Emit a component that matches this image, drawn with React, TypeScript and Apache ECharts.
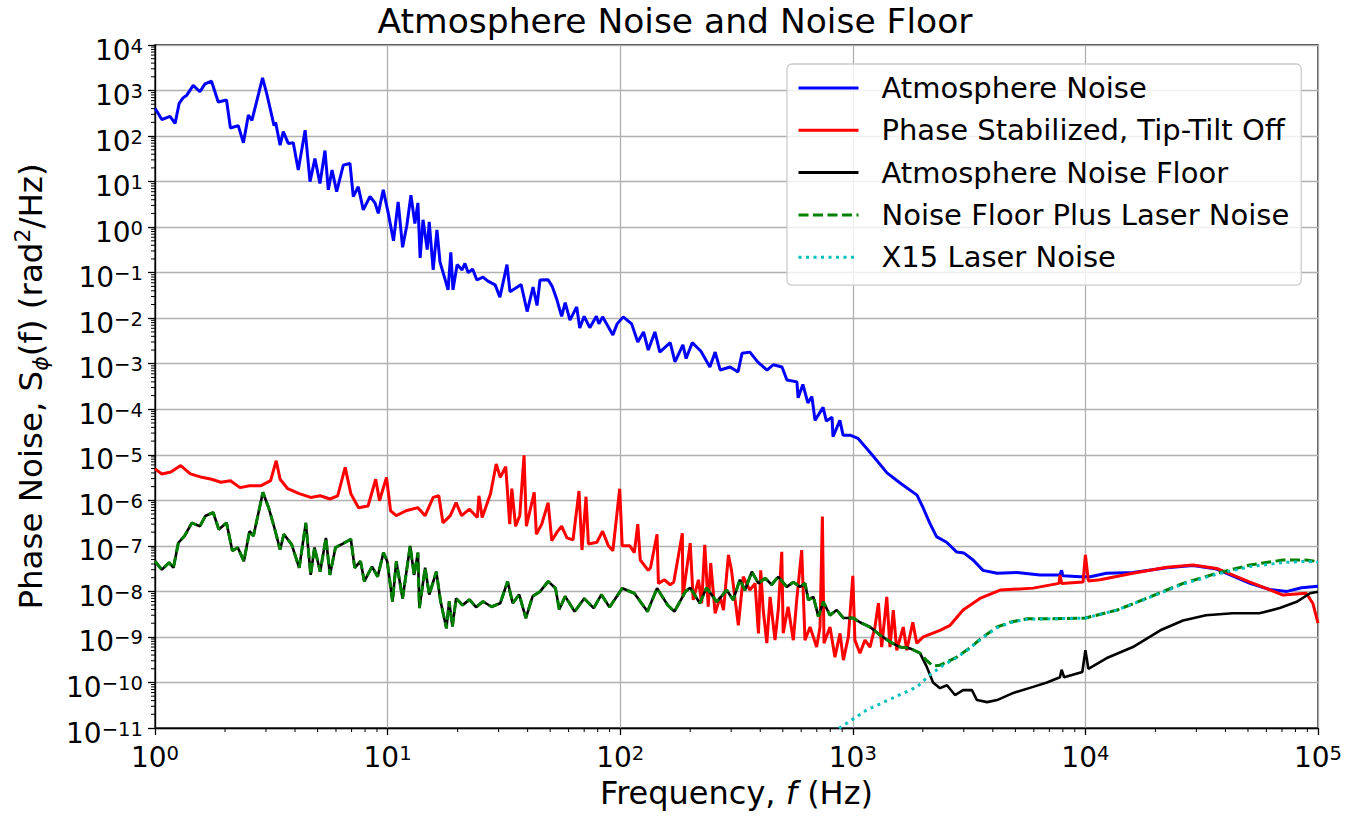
import React, { useEffect, useRef } from "react";
import * as echarts from "echarts";

const FONT = "DejaVu Sans";

const TITLE = "Atmosphere Noise and Noise Floor";
const SERIES_NAMES = [
  "Atmosphere Noise",
  "Phase Stabilized, Tip-Tilt Off",
  "Atmosphere Noise Floor",
  "Noise Floor Plus Laser Noise",
  "X15 Laser Noise",
];

// [frequency Hz, S_phi rad^2/Hz]
const atmosphereNoise: [number, number][] = [
  [1.0, 4.1e2], [1.07, 2.3e2], [1.16, 2.7e2], [1.22, 1.9e2], [1.27, 5.2e2], [1.32, 6.9e2],
  [1.37, 7.9e2], [1.46, 1.3e3], [1.56, 9.4e2], [1.64, 1.4e3], [1.75, 1.6e3], [1.87, 5.6e2],
  [2.03, 6.2e2], [2.11, 1.5e2], [2.28, 1.7e2], [2.4, 71], [2.52, 2.9e2], [2.61, 2.2e2],
  [2.9, 1.9e3], [3.02, 8.7e2], [3.25, 1.7e2], [3.3, 2.0e2], [3.45, 63], [3.56, 1.25e2],
  [3.74, 69], [3.93, 71], [4.13, 18], [4.42, 1.35e2], [4.64, 10], [4.87, 32], [5.12, 9.1],
  [5.38, 48], [5.56, 6.6], [5.77, 18], [6.04, 6.0], [6.45, 23], [6.89, 25], [7.12, 4.7],
  [7.48, 7.7], [7.86, 2.4], [8.4, 4.7], [8.83, 3.4], [9.12, 2.0], [9.58, 6.6], [10.07, 2.0],
  [10.6, 0.5], [11.1, 3.6], [11.6, 0.36], [12.1, 1.1], [12.6, 5], [13.1, 1.2], [13.5, 3.4],
  [13.8, 0.21], [14.2, 1.45], [14.8, 0.32], [15.1, 1.3], [15.7, 0.115], [16.3, 0.87],
  [16.8, 0.17], [17.7, 0.069], [18.2, 0.042], [18.7, 0.28], [19.1, 0.042], [19.9, 0.15],
  [20.9, 0.115], [21.5, 0.16], [22.2, 0.1], [23.2, 0.12], [24.2, 0.069], [25.7, 0.08],
  [27, 0.065], [29, 0.054], [30.4, 0.029], [32.6, 0.15], [33.6, 0.038], [36, 0.048],
  [37.5, 0.055], [39.8, 0.014], [42.2, 0.048], [43.9, 0.019], [45.2, 0.069], [49, 0.07],
  [51, 0.05], [53.5, 0.025], [56, 0.011], [58, 0.022], [60.8, 0.0091], [65, 0.0177],
  [67, 0.0061], [70, 0.011], [74, 0.0062], [79, 0.011], [81, 0.0075], [84, 0.0107],
  [93, 0.0043], [97, 0.0075], [103, 0.0107], [112, 0.0075], [119, 0.003], [126, 0.005],
  [132, 0.002], [141, 0.005], [148, 0.0018], [164, 0.0029], [172, 0.0011], [186, 0.0026],
  [192, 0.0013], [204, 0.0029], [222, 0.0019], [243, 0.00085], [256, 0.0018], [269, 0.00073],
  [297, 0.00085], [321, 0.00066], [334, 0.0017], [361, 0.0018], [390, 0.0011], [428, 0.00072],
  [455, 0.00095], [496, 0.00085], [521, 0.00044], [575, 0.0004], [582, 0.000178], [610, 0.00035],
  [641, 0.000138], [667, 0.00019], [688, 5.7e-5], [745, 1.1e-4], [770, 5.5e-5], [814, 6.7e-5],
  [822, 2.5e-5], [880, 5.7e-5], [908, 2.7e-5], [973, 2.7e-5], [1052, 2.3e-5], [1210, 1e-5],
  [1403, 4e-6], [1597, 2.4e-6], [1888, 1.3e-6], [2000, 7.1e-7], [2140, 3.2e-7], [2290, 1.6e-7],
  [2530, 1.2e-7], [2800, 7.3e-8], [3000, 7.0e-8], [3290, 4.9e-8], [3630, 2.9e-8], [4170, 2.5e-8],
  [5080, 2.6e-8], [6380, 2.3e-8], [7770, 2.3e-8], [7900, 2.9e-8], [8000, 2.2e-8], [9500, 2.1e-8],
  [10500, 2.1e-8], [12300, 2.5e-8], [16000, 2.6e-8], [22400, 3.3e-8], [29000, 3.7e-8],
  [36700, 3.1e-8], [51000, 1.5e-8], [62000, 1.1e-8], [73500, 1.0e-8], [85000, 1.2e-8],
  [100000, 1.3e-8],
];

const phaseStabilized: [number, number][] = [
  [1.0, 4.9e-6], [1.07, 3.8e-6], [1.17, 4.2e-6], [1.29, 5.8e-6], [1.42, 3.8e-6], [1.59, 3.2e-6],
  [1.75, 2.9e-6], [1.92, 2.5e-6], [2.11, 2.7e-6], [2.32, 1.9e-6], [2.55, 2.1e-6], [2.86, 2.1e-6],
  [3.14, 2.7e-6], [3.32, 7.4e-6], [3.45, 2.9e-6], [3.72, 1.8e-6], [4.17, 1.4e-6], [4.67, 1.16e-6],
  [5.13, 1.26e-6], [5.65, 1.07e-6], [6.1, 1.26e-6], [6.57, 5.3e-6], [6.95, 1.4e-6], [7.5, 6.9e-7],
  [8.24, 7.5e-7], [8.89, 2.9e-6], [9.23, 9.8e-7], [9.89, 3.2e-6], [10.3, 5.9e-7], [10.9, 4.6e-7],
  [12.0, 5.9e-7], [13.5, 6.9e-7], [14.5, 4.6e-7], [15.7, 1.16e-6], [16.6, 1.26e-6], [17.3, 3.2e-7],
  [18.6, 4.6e-7], [19.7, 8.9e-7], [20.8, 4.6e-7], [22.5, 6.4e-7], [24.3, 4.2e-7], [24.7, 1.26e-6],
  [25.5, 4.2e-7], [27.7, 1.4e-6], [29.3, 6.3e-6], [30.5, 3.2e-6], [32.2, 5.5e-6], [33.5, 3.0e-7],
  [34.2, 1.8e-6], [35.5, 2.7e-7], [37, 4.6e-7], [38.6, 9.7e-6], [39.5, 2.7e-7], [42.7, 1.5e-6],
  [43.6, 1.8e-7], [46, 3e-7], [49, 8.9e-7], [50.8, 1.3e-7], [53.5, 2e-7], [56, 2.7e-7],
  [59, 1.5e-7], [62.7, 1.35e-7], [66.5, 1.6e-6], [68.5, 8.1e-8], [71.3, 1.2e-6], [73, 1.1e-7],
  [79.4, 1.2e-7], [84, 2.1e-7], [89, 1.0e-7], [93, 7.8e-8], [99.5, 1.8e-6], [102, 1.0e-7],
  [110, 1.0e-7], [115, 7.1e-8], [119, 3.0e-7], [122, 4.9e-8], [132, 2.9e-8], [135, 3.3e-8],
  [144, 1.8e-7], [146, 1.5e-8], [155, 1.8e-8], [164, 1.4e-8], [170, 1.6e-8], [185, 1.9e-7],
  [186, 7.6e-9], [200, 1.15e-7], [206, 6.5e-9], [217, 1.8e-8], [224, 5.5e-9], [231, 1.05e-7],
  [239, 4.6e-9], [245, 4.2e-8], [256, 3.3e-9], [269, 7.6e-9], [278, 3.9e-9], [292, 6.3e-8],
  [301, 2.9e-8], [312, 6.5e-9], [322, 1.8e-9], [338, 2.1e-8], [361, 1.07e-8], [380, 1.5e-8],
  [393, 1.2e-9], [402, 2.9e-8], [412, 3.9e-9], [427, 7.3e-10], [441, 7.6e-9], [463, 8.5e-10],
  [478, 3.9e-9], [495, 7.4e-8], [502, 1.2e-9], [527, 4.6e-9], [555, 8.5e-10], [574, 6.5e-9],
  [603, 8.1e-8], [623, 8.5e-10], [655, 1.65e-9], [699, 6e-10], [723, 1.65e-9], [740, 4.4e-7],
  [752, 7.3e-10], [798, 1.65e-9], [838, 3.6e-10], [881, 1.2e-9], [911, 3.1e-10], [957, 1e-9],
  [1000, 2.2e-8], [1021, 8.5e-10], [1073, 4.4e-10], [1128, 8.5e-10], [1186, 6e-10],
  [1245, 1.65e-9], [1289, 5.5e-9], [1331, 6e-10], [1400, 7.6e-9], [1445, 6e-10], [1493, 3.9e-9],
  [1545, 5.1e-10], [1648, 1.65e-9], [1706, 5.1e-10], [1811, 2.1e-9], [1883, 7.3e-10],
  [2010, 1e-9], [2370, 1.4e-9], [2620, 1.8e-9], [2980, 3.9e-9], [3520, 7e-9], [4300, 1.07e-8],
  [5960, 1.18e-8], [7700, 1.5e-8], [7780, 2.3e-8], [7900, 1.5e-8], [9770, 1.6e-8],
  [10000, 6.3e-8], [10300, 1.7e-8], [11560, 1.8e-8], [16000, 2.5e-8], [22400, 3.4e-8],
  [29000, 3.8e-8], [36700, 3.2e-8], [51000, 1.6e-8], [70800, 8.3e-9], [89000, 9.1e-9],
  [95000, 5.5e-9], [100000, 2e-9],
];

const noiseFloor: [number, number][] = [
  [1.0, 4.6e-8], [1.07, 3e-8], [1.15, 4.3e-8], [1.2, 3.3e-8], [1.26, 1.17e-7], [1.34, 1.65e-7],
  [1.44, 3.2e-7], [1.56, 2.7e-7], [1.65, 4.6e-7], [1.78, 5.4e-7], [1.88, 2.3e-7], [2.03, 3.2e-7],
  [2.15, 7.8e-8], [2.27, 9.2e-8], [2.41, 4.6e-8], [2.55, 2.1e-7], [2.65, 1.65e-7], [2.91, 1.5e-6],
  [3.08, 6.9e-7], [3.26, 2.5e-7], [3.45, 8.3e-8], [3.58, 1.8e-7], [3.87, 1.07e-7], [4.17, 3.3e-8],
  [4.45, 3.2e-7], [4.67, 2.3e-8], [4.85, 9.2e-8], [5.13, 2.7e-8], [5.43, 1.5e-7], [5.65, 2.3e-8],
  [5.97, 9.2e-8], [6.32, 1.07e-7], [6.95, 1.4e-7], [7.22, 3.3e-8], [7.65, 4.6e-8], [7.94, 1.66e-8],
  [8.57, 3.5e-8], [9.06, 2.1e-8], [9.6, 7.1e-8], [9.96, 4.6e-8], [10.5, 6e-9], [10.9, 4.6e-8],
  [11.6, 7e-9], [12.5, 1e-7], [13, 2.3e-8], [13.5, 7.1e-8], [13.7, 4.3e-9], [14.5, 3.3e-8],
  [15.1, 8.5e-9], [16.2, 2.7e-8], [16.9, 6e-9], [17.9, 1.55e-9], [18.4, 6e-9], [19, 1.7e-9],
  [19.7, 7e-9], [21, 5e-9], [22.5, 6.6e-9], [24, 4.5e-9], [25.7, 6e-9], [28, 4.6e-9],
  [30.5, 5.5e-9], [32.8, 1.66e-8], [34.5, 5.5e-9], [36.8, 8.5e-9], [39.3, 2.6e-9], [42, 7.8e-9],
  [45.3, 1e-8], [49, 1.66e-8], [52.7, 1.17e-8], [54.7, 4e-9], [58, 7.8e-9], [63.7, 3.6e-9],
  [70, 7e-9], [76.9, 4.3e-9], [83, 8.5e-9], [90, 4.5e-9], [102, 1.17e-8], [115, 9.1e-9],
  [131, 3.6e-9], [144, 1.17e-8], [160, 5e-9], [171, 3.6e-9], [191, 1e-8], [200, 1.2e-8],
  [220, 5.5e-9], [235, 1.2e-8], [260, 5.9e-9], [287, 1.07e-8], [306, 6.5e-9], [327, 1.8e-8],
  [344, 1.07e-8], [368, 2.7e-8], [393, 1.5e-8], [420, 1.95e-8], [448, 1.4e-8], [478, 2.1e-8],
  [520, 1.26e-8], [555, 1.6e-8], [593, 1.26e-8], [623, 1.5e-8], [644, 6.5e-9], [677, 7.6e-9],
  [711, 2.8e-9], [747, 5.9e-9], [798, 3e-9], [853, 3.9e-9], [911, 2.6e-9], [1005, 2.6e-9],
  [1073, 2.1e-9], [1186, 1.65e-9], [1309, 1.1e-9], [1445, 7.8e-10], [1596, 6e-10],
  [1762, 5.6e-10], [1945, 4.4e-10], [2080, 2.2e-10], [2213, 1e-10], [2370, 7.5e-11],
  [2540, 8.7e-11], [2750, 5.3e-11], [2980, 6.8e-11], [3250, 6.8e-11], [3420, 4.1e-11],
  [3780, 3.7e-11], [4170, 4.1e-11], [4900, 5.9e-11], [5960, 8e-11], [6840, 1e-10],
  [7770, 1.3e-10], [7900, 1.9e-10], [8100, 1.3e-10], [9700, 1.7e-10], [10000, 5.1e-10],
  [10300, 2e-10], [12300, 3.4e-10], [16000, 6e-10], [21000, 1.4e-9], [26300, 2.3e-9],
  [33000, 3e-9], [43000, 3.3e-9], [56000, 3.3e-9], [68500, 4.3e-9], [81000, 5.9e-9],
  [92400, 9.1e-9], [100000, 9.8e-9],
];

// above ~2 kHz the floor-plus-laser curve separates from the floor
const floorPlusLaserHigh: [number, number][] = [
  [2080, 3.0e-10], [2213, 2.3e-10], [2370, 2.4e-10], [2450, 2.6e-10], [2800, 3.6e-10],
  [3190, 5.8e-10], [3630, 1e-9], [4170, 1.65e-9], [4740, 2.1e-9], [5600, 2.5e-9],
  [7250, 2.5e-9], [10000, 2.6e-9], [13700, 3.9e-9], [19000, 7.6e-9], [26300, 1.5e-8],
  [36700, 2.5e-8], [51000, 3.8e-8], [70800, 4.9e-8], [89000, 4.9e-8], [100000, 4.5e-8],
];
const floorPlusLaser: [number, number][] = noiseFloor
  .filter((p) => p[0] <= 1945)
  .concat(floorPlusLaserHigh);

const laserNoise: [number, number][] = [
  [820, 8e-12], [1150, 2.5e-11], [1490, 4.6e-11], [1890, 8e-11], [2140, 1.45e-10],
  [2450, 2.4e-10], [2800, 3.5e-10], [3190, 5.7e-10], [3630, 9.8e-10], [4170, 1.6e-9],
  [4740, 2.05e-9], [5600, 2.45e-9], [7250, 2.5e-9], [10000, 2.6e-9], [13700, 3.9e-9],
  [19000, 7.5e-9], [26300, 1.45e-8], [36700, 2.4e-8], [51000, 3.5e-8], [70800, 4.3e-8],
  [89000, 4.6e-8], [100000, 4.4e-8],
];

const X_MIN = 1;
const X_MAX = 1e5;
const Y_MIN = 1e-11;
const Y_MAX = 1e4;
const MINOR_MULT = [2, 3, 4, 5, 6, 7, 8, 9];
const X_DECADES = [1, 10, 100, 1000, 10000];
const Y_DECADES = [1e-11, 1e-10, 1e-9, 1e-8, 1e-7, 1e-6, 1e-5, 1e-4, 1e-3, 1e-2, 1e-1, 1, 10, 100, 1000];
const X_MINOR = X_DECADES.flatMap((d) => MINOR_MULT.map((m) => m * d));
const Y_MINOR = Y_DECADES.flatMap((d) => MINOR_MULT.map((m) => m * d));

const sup = (v: number) => {
  const e = Math.round(Math.log10(v));
  return e < 0 ? "\u2212" + String(-e) : String(e);
};

export default function App() {
  const ref = useRef<HTMLDivElement>(null);
  useEffect(() => {
    if (!ref.current) return;
    const chart = echarts.init(ref.current, null, { renderer: "svg" });
    const tickRich = {
      b: { fontFamily: FONT, fontSize: 28, lineHeight: 28, color: "#000", verticalAlign: "bottom" },
      s: { fontFamily: FONT, fontSize: 19.6, lineHeight: 18, color: "#000", verticalAlign: "top" },
    };
    const lineSeries = (name: string, data: [number, number][], color: string, width: number, type: any, z: number) => ({
      type: "line",
      name,
      data,
      showSymbol: false,
      symbol: "none",
      smooth: false,
      z,
      lineStyle: { color, width, type },
      itemStyle: { color },
      emphasis: { disabled: true },
    });
    chart.setOption({
      animation: false,
      backgroundColor: "#ffffff",
      title: {
        text: TITLE,
        left: "center",
        top: 1,
        padding: 0,
        textStyle: { fontFamily: FONT, fontSize: 34.5, fontWeight: "normal", color: "#000", lineHeight: 40 },
      },
      legend: {
        data: SERIES_NAMES,
        orient: "vertical",
        left: 787,
        top: 64,
        padding: [9, 12, 13, 10],
        itemWidth: 60,
        itemHeight: 14,
        itemGap: 12.3,
        backgroundColor: "rgba(255,255,255,0.8)",
        borderColor: "#cccccc",
        borderWidth: 1.3,
        borderRadius: 5,
        selectedMode: false,
        itemStyle: { opacity: 0 },
        lineStyle: { width: 3 },
        textStyle: { fontFamily: FONT, fontSize: 29, lineHeight: 30, color: "#000", padding: [0, 0, 0, 18] },
      },
      grid: {
        left: 155,
        right: 32,
        top: 45,
        bottom: 88,
        show: true,
        borderColor: "#000",
        borderWidth: 1.3,
        backgroundColor: "transparent",
      },
      xAxis: {
        type: "log",
        logBase: 10,
        min: X_MIN,
        max: X_MAX,
        interval: 1,
        name: "{n|Frequency, }{i|f}{n| (Hz)}",
        nameLocation: "middle",
        nameGap: 49,
        nameTextStyle: {
          rich: {
            n: { fontFamily: FONT, fontSize: 32, lineHeight: 32, color: "#000" },
            i: { fontFamily: FONT, fontSize: 32, lineHeight: 32, color: "#000", fontStyle: "italic" },
          },
        },
        axisLine: { show: true, lineStyle: { color: "#000", width: 1.3 } },
        axisTick: { show: true, inside: false, length: 7, lineStyle: { color: "#000", width: 1.3 } },
        splitLine: { show: true, lineStyle: { color: "#b0b0b0", width: 1.3 } },
        axisLabel: {
          margin: 15,
          formatter: (v: number) => "{b|10}{s|" + sup(v) + "}",
          rich: tickRich,
        },
      },
      yAxis: {
        type: "log",
        logBase: 10,
        min: Y_MIN,
        max: Y_MAX,
        interval: 1,
        name: "{n|Phase Noise, S}{sub|\u03d5}{n|(f) (rad}{sp|2}{n|/Hz)}",
        nameLocation: "middle",
        nameRotate: 90,
        nameGap: 104,
        nameTextStyle: {
          rich: {
            n: { fontFamily: FONT, fontSize: 32.5, lineHeight: 40, color: "#000", verticalAlign: "middle" },
            sub: { fontFamily: FONT, fontSize: 22, lineHeight: 22, color: "#000", fontStyle: "italic", verticalAlign: "bottom" },
            sp: { fontFamily: FONT, fontSize: 22, lineHeight: 22, color: "#000", verticalAlign: "top" },
          },
        },
        axisLine: { show: true, lineStyle: { color: "#000", width: 1.3 } },
        axisTick: { show: true, inside: false, length: 7, lineStyle: { color: "#000", width: 1.3 } },
        splitLine: { show: true, lineStyle: { color: "#b0b0b0", width: 1.3 } },
        axisLabel: {
          margin: 12,
          padding: [10, 0, 0, 0],
          formatter: (v: number) => "{b|10}{s|" + sup(v) + "}",
          rich: tickRich,
        },
      },
      series: [
        lineSeries(SERIES_NAMES[0], atmosphereNoise, "#0000ff", 3, "solid", 2),
        lineSeries(SERIES_NAMES[1], phaseStabilized, "#ff0000", 3, "solid", 3),
        lineSeries(SERIES_NAMES[2], noiseFloor, "#000000", 2.6, "solid", 4),
        lineSeries(SERIES_NAMES[3], floorPlusLaser, "#008000", 3, [10, 4.5], 5),
        lineSeries(SERIES_NAMES[4], laserNoise, "#00bfbf", 3, [3, 4.5], 6),
        {
          type: "custom",
          name: "_minorX",
          silent: true,
          clip: false,
          z: 10,
          data: X_MINOR.map((v) => [v, Y_MIN]),
          renderItem: (_p: any, api: any) => {
            const p = api.coord([api.value(0), api.value(1)]);
            return {
              type: "line",
              shape: { x1: p[0], y1: p[1], x2: p[0], y2: p[1] + 4 },
              style: { stroke: "#000", lineWidth: 1 },
            };
          },
        },
        {
          type: "custom",
          name: "_minorY",
          silent: true,
          clip: false,
          z: 10,
          data: Y_MINOR.map((v) => [X_MIN, v]),
          renderItem: (_p: any, api: any) => {
            const p = api.coord([api.value(0), api.value(1)]);
            return {
              type: "line",
              shape: { x1: p[0] - 4, y1: p[1], x2: p[0], y2: p[1] },
              style: { stroke: "#000", lineWidth: 1 },
            };
          },
        },
      ],
    });
    return () => chart.dispose();
  }, []);
  return (
    <div
      ref={ref}
      style={{ position: "absolute", left: 0, top: 0, width: 1350, height: 816, background: "#fff" }}
    />
  );
}
